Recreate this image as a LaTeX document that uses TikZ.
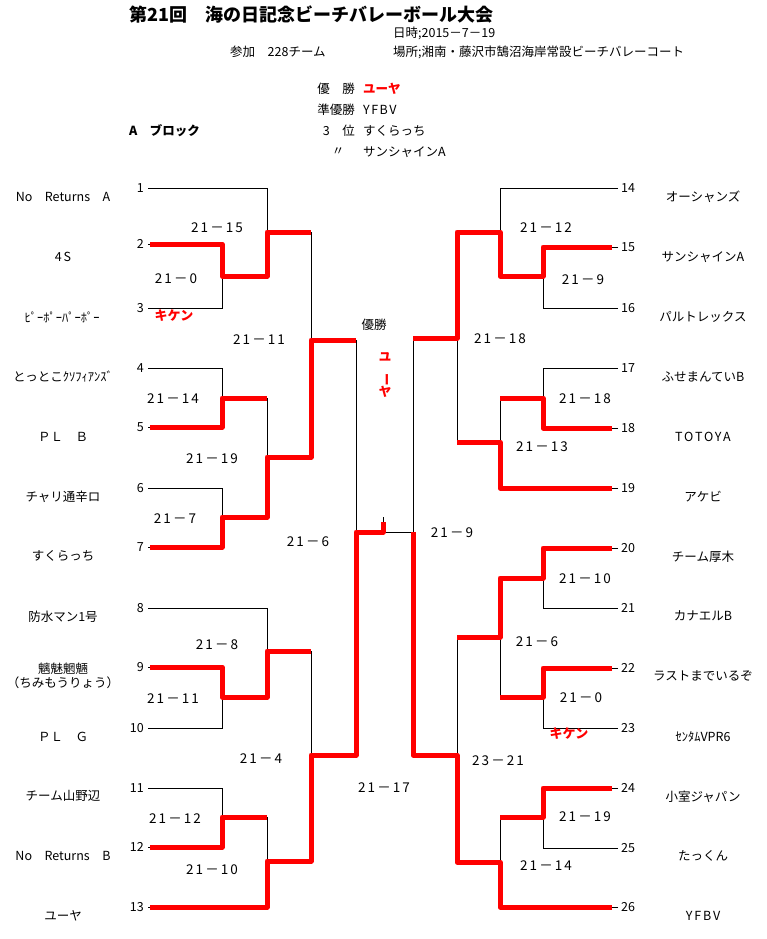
\documentclass[tikz,border=0pt]{standalone}
\usepackage{fontspec}
\setmainfont{Noto Sans CJK JP}
\usepackage{tikz}
\usetikzlibrary{calc}
\definecolor{cWin}{HTML}{FF0000}
\tikzset{
  title/.style={font=\fontsize{18}{20}\selectfont\bfseries, inner sep=1pt},
  head/.style={font=\fontsize{12.5}{14}\selectfont, inner sep=1pt},
  team/.style={font=\fontsize{12.5}{14}\selectfont, inner sep=1pt, align=center},
  latin/.style={team, font=\fontsize{12.5}{14}\selectfont\addfontfeatures{LetterSpace=15}},
  seed/.style={font=\fontsize{12.5}{14}\selectfont, inner sep=1pt},
  score/.style={font=\fontsize{13.5}{15}\selectfont\addfontfeatures{LetterSpace=15}, inner sep=1pt},
  kiken/.style={font=\fontsize{13}{15}\selectfont\bfseries, text=cWin, inner sep=1pt},
  wline/.style={line width=0.8pt, black},
  win/.style={line width=5pt, cWin, line join=round},
}

\begin{document}
\begin{tikzpicture}[x=1pt, y=-1pt]
  \useasboundingbox (0,0) rectangle (766,939);

  % header
  \node[title, anchor=west] (ttl) at (128,15) {第21回　海の日記念ビーチバレーボール大会};
  \node[head, anchor=west] (date) at (392,33) {日時;2015－7－19};
  \node[head, anchor=west] (entry) at (229,52) {参加　228チーム};
  \node[head, anchor=west] (place) at (392,52) {場所;湘南・藤沢市鵠沼海岸常設ビーチバレーコート};
  \node[head, anchor=east] (k1) at (356,89) {優　勝};
  \node[head, anchor=west, text=cWin, font=\fontsize{12.5}{14}\selectfont\bfseries] (v1) at (362,89) {ユーヤ};
  \node[head, anchor=east] (k2) at (356,110) {準優勝};
  \node[head, anchor=west, font=\fontsize{12.5}{14}\selectfont\addfontfeatures{LetterSpace=12}] (v2) at (362,110) {YFBV};
  \node[head, anchor=east] (k3) at (356,131) {3　位};
  \node[head, anchor=west] (v3) at (362,131) {すくらっち};
  \node[head] (k4) at (338,152) {〃};
  \node[head, anchor=west] (v4) at (362,152) {サンシャインA};
  \node[head, anchor=west, font=\fontsize{12.5}{14}\selectfont\bfseries] (blk) at (128,131) {A　ブロック};

  % seeds, left
  \node[seed, anchor=east] (n1)  at (145,188) {1};
  \node[seed, anchor=east] (n2)  at (145,244) {2};
  \node[seed, anchor=east] (n3)  at (145,308) {3};
  \node[seed, anchor=east] (n4)  at (145,368) {4};
  \node[seed, anchor=east] (n5)  at (145,427) {5};
  \node[seed, anchor=east] (n6)  at (145,488) {6};
  \node[seed, anchor=east] (n7)  at (145,547) {7};
  \node[seed, anchor=east] (n8)  at (145,608) {8};
  \node[seed, anchor=east] (n9)  at (145,667) {9};
  \node[seed, anchor=east] (n10) at (145,728) {10};
  \node[seed, anchor=east] (n11) at (145,788) {11};
  \node[seed, anchor=east] (n12) at (145,847) {12};
  \node[seed, anchor=east] (n13) at (145,907) {13};
  % seeds, right
  \node[seed, anchor=west] (n14) at (620,188) {14};
  \node[seed, anchor=west] (n15) at (620,247) {15};
  \node[seed, anchor=west] (n16) at (620,308) {16};
  \node[seed, anchor=west] (n17) at (620,368) {17};
  \node[seed, anchor=west] (n18) at (620,428) {18};
  \node[seed, anchor=west] (n19) at (620,488) {19};
  \node[seed, anchor=west] (n20) at (620,548) {20};
  \node[seed, anchor=west] (n21) at (620,608) {21};
  \node[seed, anchor=west] (n22) at (620,668) {22};
  \node[seed, anchor=west] (n23) at (620,728) {23};
  \node[seed, anchor=west] (n24) at (620,788) {24};
  \node[seed, anchor=west] (n25) at (620,848) {25};
  \node[seed, anchor=west] (n26) at (620,907) {26};

  % teams
  \node[team]  (t1)  at (63,197) {No　Returns　A};
  \node[latin] (t2)  at (63,257) {4S};
  \node[team]  (t3)  at (62,317) {ﾋﾟｰﾎﾟｰﾊﾟｰﾎﾟｰ};
  \node[team]  (t4)  at (63,376) {とっとこｸｿﾌｨｱﾝｽﾞ};
  \node[team]  (t5)  at (63,437) {ＰＬ　Ｂ};
  \node[team]  (t6)  at (63,497) {チャリ通辛ロ};
  \node[team]  (t7)  at (63,556) {すくらっち};
  \node[team]  (t8)  at (63,617) {防水マン1号};
  \node[team]  (t9)  at (63,676) {魑魅魍魎\\（ちみもうりょう）};
  \node[team]  (t10) at (63,737) {ＰＬ　Ｇ};
  \node[team]  (t11) at (63,796) {チーム山野辺};
  \node[team]  (t12) at (63,856) {No　Returns　B};
  \node[team]  (t13) at (63,916) {ユーヤ};
  \node[team]  (t14) at (703,197) {オーシャンズ};
  \node[team]  (t15) at (703,257) {サンシャインA};
  \node[team]  (t16) at (703,317) {パルトレックス};
  \node[team]  (t17) at (703,377) {ふせまんていB};
  \node[latin] (t18) at (703,437) {TOTOYA};
  \node[team]  (t19) at (703,497) {アケビ};
  \node[team]  (t20) at (703,557) {チーム厚木};
  \node[team]  (t21) at (703,616) {カナエルB};
  \node[team]  (t22) at (703,676) {ラストまでいるぞ};
  \node[team]  (t23) at (703,737) {ｾﾝﾀﾑVPR6};
  \node[team]  (t24) at (703,797) {小室ジャパン};
  \node[team]  (t25) at (703,856) {たっくん};
  \node[latin] (t26) at (703,916) {YFBV};

  % slot ends
  \coordinate (s1) at (148,188);  \coordinate (s2) at (148,244);
  \coordinate (s3) at (148,308);  \coordinate (s4) at (148,368);
  \coordinate (s5) at (148,427);  \coordinate (s6) at (148,488);
  \coordinate (s7) at (148,547);  \coordinate (s8) at (148,608);
  \coordinate (s9) at (148,667);  \coordinate (s10) at (148,728);
  \coordinate (s11) at (148,788); \coordinate (s12) at (148,847);
  \coordinate (s13) at (148,907);
  \coordinate (s14) at (618,188); \coordinate (s15) at (618,247);
  \coordinate (s16) at (618,308); \coordinate (s17) at (618,368);
  \coordinate (s18) at (618,428); \coordinate (s19) at (618,488);
  \coordinate (s20) at (618,548); \coordinate (s21) at (618,608);
  \coordinate (s22) at (618,668); \coordinate (s23) at (618,728);
  \coordinate (s24) at (618,788); \coordinate (s25) at (618,848);
  \coordinate (s26) at (618,907);

  % match joints
  \coordinate (L1) at (222,276);  \coordinate (L2) at (267,232);
  \coordinate (L3) at (222,398);  \coordinate (L4) at (222,517);
  \coordinate (L5) at (267,457);  \coordinate (L6) at (311,340);
  \coordinate (L7) at (222,697);  \coordinate (L8) at (267,651);
  \coordinate (L9) at (222,817);  \coordinate (L10) at (267,861);
  \coordinate (L11) at (311,755); \coordinate (L12) at (356,532);
  \coordinate (R1) at (543,276);  \coordinate (R2) at (500,232);
  \coordinate (R3) at (543,398);  \coordinate (R4) at (500,442);
  \coordinate (R5) at (457,338);  \coordinate (R6) at (543,578);
  \coordinate (R7) at (543,697);  \coordinate (R8) at (500,637);
  \coordinate (R9) at (543,817);  \coordinate (R10) at (500,862);
  \coordinate (R11) at (457,755); \coordinate (R12) at (413,532);
  \coordinate (cup) at (383,532);

  % bracket
  \draw[wline] (s2) -| (L1);  \draw[wline] (s3) -| (L1);
  \draw[wline] (s1) -| (L2);  \draw[wline] (L1) -| (L2);
  \draw[wline] (s4) -| (L3);  \draw[wline] (s5) -| (L3);
  \draw[wline] (s6) -| (L4);  \draw[wline] (s7) -| (L4);
  \draw[wline] (L3) -| (L5);  \draw[wline] (L4) -| (L5);
  \draw[wline] (L2) -| (L6);  \draw[wline] (L5) -| (L6);
  \draw[wline] (s9) -| (L7);  \draw[wline] (s10) -| (L7);
  \draw[wline] (s8) -| (L8);  \draw[wline] (L7) -| (L8);
  \draw[wline] (s11) -| (L9); \draw[wline] (s12) -| (L9);
  \draw[wline] (L9) -| (L10); \draw[wline] (s13) -| (L10);
  \draw[wline] (L8) -| (L11); \draw[wline] (L10) -| (L11);
  \draw[wline] (L6) -| (L12); \draw[wline] (L11) -| (L12);
  \draw[wline] (s15) -| (R1); \draw[wline] (s16) -| (R1);
  \draw[wline] (s14) -| (R2); \draw[wline] (R1) -| (R2);
  \draw[wline] (s17) -| (R3); \draw[wline] (s18) -| (R3);
  \draw[wline] (R3) -| (R4);  \draw[wline] (s19) -| (R4);
  \draw[wline] (R2) -| (R5);  \draw[wline] (R4) -| (R5);
  \draw[wline] (s20) -| (R6); \draw[wline] (s21) -| (R6);
  \draw[wline] (s22) -| (R7); \draw[wline] (s23) -| (R7);
  \draw[wline] (R6) -| (R8);  \draw[wline] (R7) -| (R8);
  \draw[wline] (s24) -| (R9); \draw[wline] (s25) -| (R9);
  \draw[wline] (R9) -| (R10); \draw[wline] (s26) -| (R10);
  \draw[wline] (R8) -| (R11); \draw[wline] (R10) -| (R11);
  \draw[wline] (R5) -| (R12); \draw[wline] (R11) -| (R12);
  \draw[wline] (L12) -- (R12);
  \draw[wline] (cup) -- ++(0,-15);

  % winners
  \draw[win, shorten <=2pt] (s2) -| (L1) -| (L2) -- (L2 -| L6);
  \draw[win, shorten <=2pt] (s5) -| (L3) -- (L3 -| L5);
  \draw[win, shorten <=2pt] (s7) -| (L4) -| (L5) -| (L6) -- (L6 -| L12);
  \draw[win, shorten <=2pt] (s9) -| (L7) -| (L8) -- (L8 -| L11);
  \draw[win, shorten <=2pt] (s12) -| (L9) -- (L9 -| L10);
  \draw[win, shorten <=2pt] (s13) -| (L10) -| (L11) -| (L12) -- (cup) -- ++(0,-10);
  \draw[win, shorten <=6pt] (s15) -| (R1) -| (R2) -| (R5) -- (R5 -| R12);
  \draw[win, shorten <=6pt] (s18) -| (R3) -- (R3 -| R4);
  \draw[win, shorten <=6pt] (s19) -| (R4) -- (R4 -| R5);
  \draw[win, shorten <=6pt] (s20) -| (R6) -| (R8) -- (R8 -| R11);
  \draw[win, shorten <=6pt] (s22) -| (R7) -- (R7 -| R8);
  \draw[win, shorten <=6pt] (s24) -| (R9) -- (R9 -| R10);
  \draw[win, shorten <=6pt] (s26) -| (R10) -| (R11) -| (R12);

  % scores
  \node[score] (g1)  at (176,279) {21－0};
  \node[kiken] (g1k) at (174,316) {キケン};
  \node[score] (g2)  at (217,228) {21－15};
  \node[score] (g3)  at (173,399) {21－14};
  \node[score] (g4)  at (175,519) {21－7};
  \node[score] (g5)  at (212,459) {21－19};
  \node[score] (g6)  at (259,340) {21－11};
  \node[score] (g7)  at (173,699) {21－11};
  \node[score] (g8)  at (217,645) {21－8};
  \node[score] (g9)  at (175,819) {21－12};
  \node[score] (g10) at (212,870) {21－10};
  \node[score] (g11) at (261,759) {21－4};
  \node[score] (g12) at (308,542) {21－6};
  \node[score] (h1)  at (583,280) {21－9};
  \node[score] (h2)  at (546,228) {21－12};
  \node[score] (h3)  at (585,399) {21－18};
  \node[score] (h4)  at (542,447) {21－13};
  \node[score] (h5)  at (500,339) {21－18};
  \node[score] (h6)  at (585,579) {21－10};
  \node[score] (h7)  at (581,698) {21－0};
  \node[kiken] (h7k) at (569,734) {キケン};
  \node[score] (h8)  at (537,642) {21－6};
  \node[score] (h9)  at (585,817) {21－19};
  \node[score] (h10) at (546,866) {21－14};
  \node[score] (h11) at (498,761) {23－21};
  \node[score] (h12) at (452,533) {21－9};
  \node[score] (fin) at (384,788) {21－17};

  % champion
  \node[seed] (champ) at (374,325) {優勝};
  \node[kiken, align=center, font=\fontsize{12.5}{13}\selectfont\bfseries] (champv) at (385,375)
       {ユ\\[-1pt]\rotatebox{-90}{ー}\\[-1pt]ヤ};
\end{tikzpicture}
\end{document}
